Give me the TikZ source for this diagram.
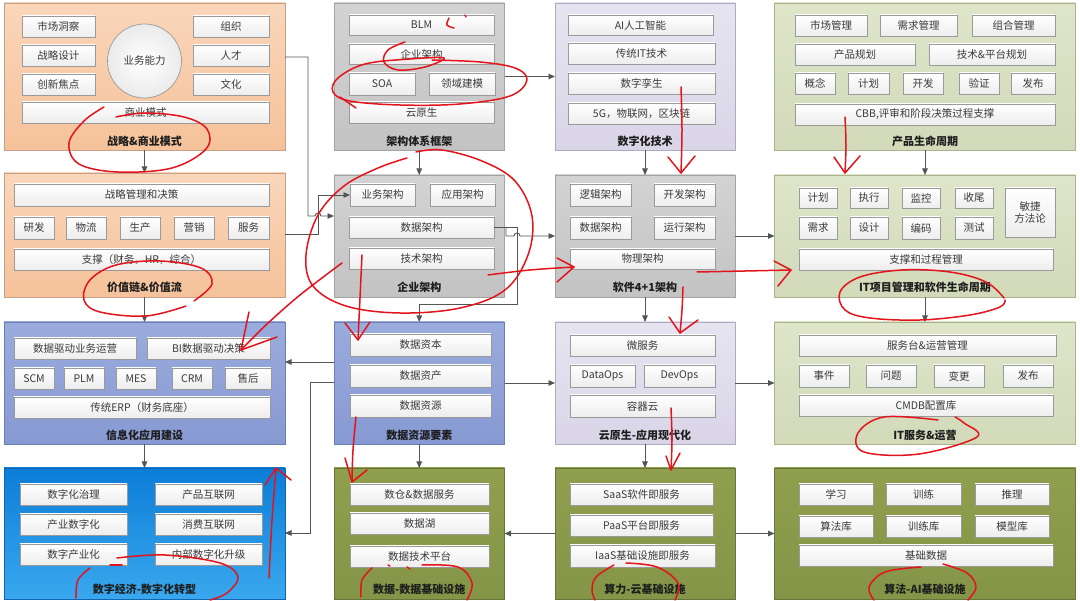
\documentclass[tikz,border=0pt]{standalone}
\usepackage{fontspec}
\setmainfont{Noto Sans CJK SC}
\usetikzlibrary{arrows.meta,shadows}
\definecolor{peachT}{HTML}{FAD6BA}
\definecolor{peachB}{HTML}{F5C29A}
\definecolor{peachD}{HTML}{C4A088}
\definecolor{grayT}{HTML}{D3D3D3}
\definecolor{grayB}{HTML}{C3C3C3}
\definecolor{grayD}{HTML}{A3A3A3}
\definecolor{lavT}{HTML}{E7E4F1}
\definecolor{lavB}{HTML}{D9D5E7}
\definecolor{lavD}{HTML}{AEAAC0}
\definecolor{oliT}{HTML}{DEE5C9}
\definecolor{oliB}{HTML}{D2DABA}
\definecolor{oliD}{HTML}{AAB290}
\definecolor{bluT}{HTML}{9AACDD}
\definecolor{bluB}{HTML}{8799D2}
\definecolor{bluD}{HTML}{6E7DB0}
\definecolor{bbT}{HTML}{0C7DD8}
\definecolor{bbB}{HTML}{3AA8EE}
\definecolor{bbD}{HTML}{1066B0}
\definecolor{ogT}{HTML}{909F4E}
\definecolor{ogB}{HTML}{849548}
\definecolor{ogD}{HTML}{66753A}
\definecolor{boxD}{HTML}{9A9A9A}
\definecolor{txt}{HTML}{3A3A3A}
\definecolor{ttl}{HTML}{1E1E1E}
\definecolor{conn}{HTML}{555555}
\definecolor{pen}{HTML}{E3141B}
\newcommand{\pnl}[6]{\node[panel,#6,minimum width={(#4-#2)*1pt},minimum height={(#5-#3)*1pt}] (#1) at ({(#2+#4)/2},{(#3+#5)/2}) {};}
\newcommand{\bx}[6]{\node[ibox,minimum width={(#4-#2)*1pt},minimum height={(#5-#3)*1pt}] (#1) at ({(#2+#4)/2},{(#3+#5)/2}) {#6};}
\begin{document}
\begin{tikzpicture}[x=1pt,y=-1pt,
  panel/.style={rectangle,draw,line width=0.8pt,outer sep=0pt,inner sep=0pt},
  pPeach/.style={top color=peachT,bottom color=peachB,draw=peachD},
  pGray/.style={top color=grayT,bottom color=grayB,draw=grayD},
  pLav/.style={top color=lavT,bottom color=lavB,draw=lavD},
  pOli/.style={top color=oliT,bottom color=oliB,draw=oliD},
  pBlu/.style={top color=bluT,bottom color=bluB,draw=bluD},
  pBB/.style={top color=bbT,bottom color=bbB,draw=bbD},
  pOG/.style={top color=ogT,bottom color=ogB,draw=ogD},
  ibox/.style={rectangle,draw=boxD,line width=0.7pt,top color=white,bottom color=black!7,
    outer sep=0pt,inner sep=1pt,align=center,text=txt,font=\fontsize{10.5}{12.5}\selectfont,
    drop shadow={shadow xshift=0.9pt,shadow yshift=-0.9pt,opacity=0.35,fill=black!60}},
  ttlbox/.style={text=ttl,font=\fontsize{11}{13}\selectfont\bfseries,inner sep=0pt},
  conn/.style={draw=conn,line width=0.9pt,-{Triangle[length=6.5pt,width=5.5pt]}},
  redpen/.style={draw=pen,line width=1.5pt,line cap=round,line join=round}
]
\useasboundingbox (0,0) rectangle (1080,601);
\fill[white] (0,0) rectangle (1080,601);

% ---------- panels ----------
\pnl{pA}{4}{3}{285}{150}{pPeach}
\pnl{pB}{4}{173}{285}{297}{pPeach}
\pnl{pC}{334}{3}{504.5}{150}{pGray}
\pnl{pD}{334}{175}{504.5}{297}{pGray}
\pnl{pE}{555}{3}{735}{150}{pLav}
\pnl{pF}{555}{175}{735}{297}{pGray}
\pnl{pG}{774.5}{3}{1075.5}{150}{pOli}
\pnl{pH}{774.5}{175}{1075.5}{297}{pOli}
\pnl{pI}{4}{322}{285}{444}{pBlu}
\pnl{pJ}{334}{322}{504.5}{444}{pBlu}
\pnl{pK}{555}{322}{735}{444}{pLav}
\pnl{pL}{774.5}{322}{1075.5}{444}{pOli}
\pnl{pM}{4}{468}{285}{599}{pBB}
\pnl{pN}{334}{468}{504.5}{599}{pOG}
\pnl{pO}{555}{468}{735}{599}{pOG}
\pnl{pP}{774.5}{468}{1075.5}{599}{pOG}

% ---------- titles ----------
\node[ttlbox] (tA) at (144.5,141) {战略\&商业模式};
\node[ttlbox] (tB) at (144.5,287) {价值链\&价值流};
\node[ttlbox] (tC) at (419.25,141) {架构体系框架};
\node[ttlbox] (tD) at (419.25,287) {企业架构};
\node[ttlbox] (tE) at (645,141) {数字化技术};
\node[ttlbox] (tF) at (645,287) {软件4+1架构};
\node[ttlbox] (tG) at (925,141) {产品生命周期};
\node[ttlbox] (tH) at (925,287) {IT项目管理和软件生命周期};
\node[ttlbox] (tI) at (144.5,435) {信息化应用建设};
\node[ttlbox] (tJ) at (419.25,435) {数据资源要素};
\node[ttlbox] (tK) at (645,435) {云原生-应用现代化};
\node[ttlbox] (tL) at (925,435) {IT服务\&运营};
\node[ttlbox] (tM) at (144.5,589) {数字经济-数字化转型};
\node[ttlbox] (tN) at (419.25,589) {数据-数据基础设施};
\node[ttlbox] (tO) at (645,589) {算力-云基础设施};
\node[ttlbox] (tP) at (925,589) {算法-AI基础设施};

% ---------- A ----------
\bx{a1}{22}{16}{95}{37}{市场洞察}
\bx{a2}{22}{45}{95}{66}{战略设计}
\bx{a3}{22}{74}{95}{95}{创新焦点}
\bx{a4}{193}{16}{269}{37}{组织}
\bx{a5}{193}{45}{269}{66}{人才}
\bx{a6}{193}{74}{269}{95}{文化}
\node[circle,draw=boxD,line width=0.7pt,inner color=white,outer color=black!8,minimum size=74pt,
  inner sep=0pt,text=txt,font=\fontsize{10.5}{12.5}\selectfont] (ac) at (144.5,61) {业务能力};
\bx{a7}{22}{102}{269}{123}{商业模式}
% ---------- B ----------
\bx{b1}{14}{184}{269}{206}{战略管理和决策}
\bx{b2}{14}{217}{54}{239}{研发}
\bx{b3}{66}{217}{106}{239}{物流}
\bx{b4}{120}{217}{160}{239}{生产}
\bx{b5}{174}{217}{214}{239}{营销}
\bx{b6}{228}{217}{269}{239}{服务}
\bx{b7}{14}{249}{269}{270}{支撑（财务，HR，综合）}
% ---------- C ----------
\bx{c1}{349}{15}{494}{35}{BLM}
\bx{c2}{349}{44}{494}{64}{企业架构}
\bx{c3}{349}{73}{415}{95}{SOA}
\bx{c4}{429}{73}{495}{95}{领域建模}
\bx{c5}{349}{102}{494}{123}{云原生}
% ---------- D ----------
\bx{d1}{350}{184}{415}{206}{业务架构}
\bx{d2}{430}{184}{495}{206}{应用架构}
\bx{d3}{349}{217}{494}{238}{数据架构}
\bx{d4}{349}{248}{494}{269}{技术架构}
% ---------- E ----------
\bx{e1}{568}{15}{713}{35}{AI人工智能}
\bx{e2}{568}{43}{715}{64}{传统IT技术}
\bx{e3}{568}{73}{715}{94}{数字孪生}
\bx{e4}{568}{103}{715}{124}{5G，物联网，区块链}
% ---------- F ----------
\bx{f1}{570}{184}{631}{206}{逻辑架构}
\bx{f2}{654}{184}{715}{206}{开发架构}
\bx{f3}{570}{217}{631}{239}{数据架构}
\bx{f4}{654}{217}{715}{239}{运行架构}
\bx{f5}{570}{249}{715}{269}{物理架构}
% ---------- G ----------
\bx{g1}{795}{15}{867}{36}{市场管理}
\bx{g2}{880}{15}{957}{36}{需求管理}
\bx{g3}{972}{15}{1055}{36}{组合管理}
\bx{g4}{795}{44}{915}{65}{产品规划}
\bx{g5}{929}{44}{1055}{65}{技术\&平台规划}
\bx{g6}{795}{73}{835}{94}{概念}
\bx{g7}{848}{73}{889}{94}{计划}
\bx{g8}{903}{73}{943}{94}{开发}
\bx{g9}{959}{73}{999}{94}{验证}
\bx{g10}{1011}{73}{1055}{94}{发布}
\bx{g11}{795}{104}{1055}{125}{CBB,评审和阶段决策过程支撑}
% ---------- H ----------
\bx{h1}{799}{188}{837}{208}{计划}
\bx{h2}{850}{188}{888}{208}{执行}
\bx{h3}{902}{188}{940}{208}{监控}
\bx{h4}{955}{188}{993}{208}{收尾}
\bx{h5}{799}{217}{837}{239}{需求}
\bx{h6}{850}{217}{888}{239}{设计}
\bx{h7}{902}{217}{940}{239}{编码}
\bx{h8}{955}{217}{993}{239}{测试}
\bx{h9}{1005}{188}{1055}{237}{敏捷\\方法论}
\bx{h10}{799}{249}{1053}{270}{支撑和过程管理}
% ---------- I ----------
\bx{i1}{14}{338}{136}{359}{数据驱动业务运营}
\bx{i2}{147}{338}{270}{359}{BI数据驱动决策}
\bx{i3}{14}{368}{54}{389}{SCM}
\bx{i4}{64}{368}{104}{389}{PLM}
\bx{i5}{116}{368}{156}{389}{MES}
\bx{i6}{172}{368}{212}{389}{CRM}
\bx{i7}{225}{368}{271}{389}{售后}
\bx{i8}{14}{397}{270}{418}{传统ERP（财务底座）}
% ---------- J ----------
\bx{j1}{350}{334}{491}{356}{数据资本}
\bx{j2}{350}{365}{491}{387}{数据资产}
\bx{j3}{350}{395}{491}{417}{数据资源}
% ---------- K ----------
\bx{k1}{570}{335}{715}{356}{微服务}
\bx{k2}{570}{365}{635}{387}{DataOps}
\bx{k3}{644}{365}{715}{387}{DevOps}
\bx{k4}{570}{395}{715}{417}{容器云}
% ---------- L ----------
\bx{l1}{799}{335}{1056}{356}{服务台\&运营管理}
\bx{l2}{799}{365}{849}{387}{事件}
\bx{l3}{866}{365}{916}{387}{问题}
\bx{l4}{934}{365}{984}{387}{变更}
\bx{l5}{1003}{365}{1053}{387}{发布}
\bx{l6}{799}{395}{1053}{416}{CMDB配置库}
% ---------- M ----------
\bx{m1}{20}{484}{127}{505}{数字化治理}
\bx{m2}{20}{514}{127}{535}{产业数字化}
\bx{m3}{20}{544}{127}{565}{数字产业化}
\bx{m4}{155}{484}{262}{505}{产品互联网}
\bx{m5}{155}{514}{262}{535}{消费互联网}
\bx{m6}{155}{544}{262}{565}{内部数字化升级}
% ---------- N ----------
\bx{n1}{350}{484}{489}{505}{数仓\&数据服务}
\bx{n2}{350}{513}{489}{534}{数据湖}
\bx{n3}{350}{546}{489}{567}{数据技术平台}
% ---------- O ----------
\bx{o1}{570}{484}{713}{505}{SaaS软件即服务}
\bx{o2}{570}{515}{713}{536}{PaaS平台即服务}
\bx{o3}{570}{545}{715}{567}{IaaS基础设施即服务}
% ---------- P ----------
\bx{p1}{799}{484}{873}{505}{学习}
\bx{p2}{886}{484}{961}{505}{训练}
\bx{p3}{975}{484}{1049}{505}{推理}
\bx{p4}{799}{516}{873}{537}{算法库}
\bx{p5}{886}{516}{961}{537}{训练库}
\bx{p6}{975}{516}{1049}{537}{模型库}
\bx{p7}{799}{545}{1053}{566}{基础数据}

% ---------- connectors ----------
\draw[conn] (pA.south) -- (pB.north);
\draw[conn] (pB.south) -- (pI.north);
\draw[conn] (pI.south) -- (pM.north);
\draw[conn] (pC.south) -- (pD.north);
\draw[conn] (pJ.south) -- (pN.north);
\draw[conn] (pE.south) -- (pF.north);
\draw[conn] (pF.south) -- (pK.north);
\draw[conn] (pK.south) -- (pO.north);
\draw[conn] (pG.south) -- (pH.north);
\draw[conn] (pH.south) -- (pL.north);
\draw[conn] (pC.east) -- (pE.west);
\draw[conn] (pF.east) -- (pH.west);
\draw[conn] (pJ.east) -- (pK.west);
\draw[conn] (pK.east) -- (pL.west);
\draw[conn] (pO.east) -- (pP.west);
\draw[conn] (pO.west) -- (pN.east);
\draw[conn] (pJ.west |- 0,362) -- (pI.east |- 0,362);
\draw[conn] (pJ.west |- 0,382) -- (310,382) -- (310,533) -- (pM.east |- 0,533);
\draw[conn] (pB.east |- 0,234) -- (318,234) -- (318,195) -- (d1.west);
\draw[conn] (pA.east |- 0,57) -- (308,57) -- (308,216) -- (315,216) arc (180:360:3) -- (pD.west |- 0,216);
\draw[conn] (d3.east) -- (517,227.5) -- (517,304) -- (419.25,304) -- (pJ.north);
\draw[conn] (d3.east) -- (506,227.5) -- (506,236) -- (514,236) arc (180:360:3) -- (pF.west);

% ---------- red pen annotations ----------
\draw[redpen] plot[smooth,tension=0.6] coordinates {(104,107) (84,121) (69,143) (79,164) (118,172) (172,168) (206,149) (207,129) (184,117) (145,113) (116,117)};
\draw[redpen] plot[smooth,tension=0.6] coordinates {(194,301) (212,284) (201,268) (160,261) (116,265) (90,280) (84,300) (100,312) (146,316) (186,306)};
\draw[redpen] plot[smooth,tension=0.6] coordinates {(449,18) (447,25) (454,28)};
\draw[redpen] (465,15) -- (466,17);
\draw[redpen] plot[smooth,tension=0.6] coordinates {(405,42) (388,50) (384,62) (398,70) (425,67) (444,58) (410,59) (365,64) (338,78) (333,92) (350,101) (400,105) (460,104) (510,96) (527,80) (515,68) (480,62) (432,60)};
\draw[redpen] (340,97) -- (356,108);
\draw[redpen] plot[smooth,tension=0.6] coordinates {(407,158) (378,168) (344,186) (318,215) (306,255) (313,286) (346,306) (400,313) (460,308) (505,290) (528,255) (532,216) (515,181) (482,161) (442,150) (416,152)};
\draw[redpen] plot[smooth,tension=0.6] coordinates {(342,263) (300,295) (266,325) (241,350)};
\draw[redpen] (249,312) -- (241,350) -- (277,337);
\draw[redpen] plot[smooth,tension=0.6] coordinates {(362,255) (360,298) (358,340)};
\draw[redpen] (345,323) -- (358,340) -- (370,322);
\draw[redpen] plot[smooth,tension=0.6] coordinates {(356,417) (353,450) (352,482)};
\draw[redpen] (345,458) -- (352,482) -- (367,470);
\draw[redpen] plot[smooth,tension=0.6] coordinates {(488,275) (530,270) (574,267)};
\draw[redpen] (557,258) -- (574,267) -- (557,282);
\draw[redpen] plot[smooth,tension=0.6] coordinates {(697,272) (745,271) (791,270)};
\draw[redpen] (774,261) -- (791,270) -- (778,286);
\draw[redpen] plot[smooth,tension=0.6] coordinates {(681,87) (682,130) (681,173)};
\draw[redpen] (668,157) -- (681,173) -- (695,156);
\draw[redpen] plot[smooth,tension=0.6] coordinates {(683,287) (682,310) (680,333)};
\draw[redpen] (669,317) -- (680,333) -- (698,320);
\draw[redpen] plot[smooth,tension=0.6] coordinates {(671,408) (672,440) (671,470)};
\draw[redpen] (666,456) -- (671,470) -- (680,453);
\draw[redpen] plot[smooth,tension=0.6] coordinates {(845,117) (846,145) (845,173)};
\draw[redpen] (834,157) -- (845,173) -- (860,156);
\draw[redpen] plot[smooth,tension=0.6] coordinates {(1004,298) (986,282) (950,272) (902,270) (860,277) (840,292) (845,310) (870,318) (920,320) (970,315) (1000,307) (1005,300)};
\draw[redpen] plot[smooth,tension=0.6] coordinates {(938,420) (884,417) (858,433) (864,452) (919,454) (977,437) (964,423) (955,417)};
\draw[redpen] plot[smooth,tension=0.6] coordinates {(614,565) (596,577) (592,590) (595,600)};
\draw[redpen] plot[smooth,tension=0.6] coordinates {(626,563) (657,567) (678,583) (675,600)};
\draw[redpen] plot[smooth,tension=0.6] coordinates {(921,567) (885,572) (869,587) (874,600)};
\draw[redpen] plot[smooth,tension=0.6] coordinates {(943,564) (967,573) (976,587) (968,600)};
\draw[redpen] plot[smooth,tension=0.6] coordinates {(372,568) (362,580) (361,597)};
\draw[redpen] plot[smooth,tension=0.6] coordinates {(422,565) (458,567) (472,583) (467,600)};
\draw[redpen] (388,565) -- (390,566);
\draw[redpen] (407,567) -- (410,569);
\draw[redpen] (110,565) -- (122,565);
\draw[redpen] plot[smooth,tension=0.6] coordinates {(117,558) (165,555) (220,563) (238,577) (227,593) (210,600)};
\draw[redpen] plot[smooth,tension=0.6] coordinates {(90,568) (78,580) (76,598)};
\draw[redpen] plot[smooth,tension=0.6] coordinates {(269,578) (272,520) (276,469)};
\draw[redpen] (265,485) -- (276,468) -- (291,480);
\end{tikzpicture}
\end{document}
